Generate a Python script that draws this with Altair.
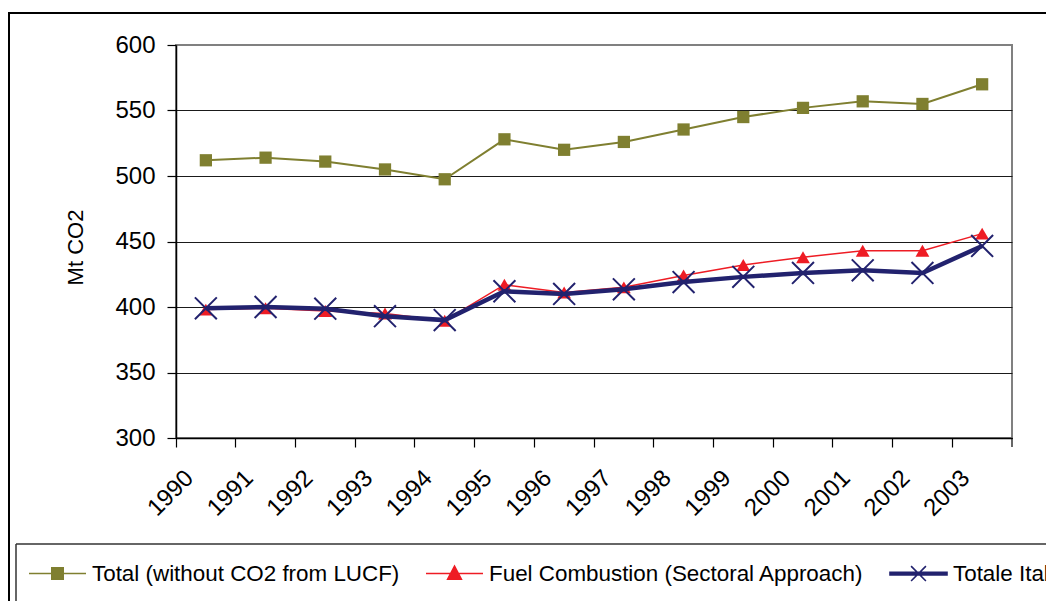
import altair as alt
import pandas as pd

years = [str(y) for y in range(1990, 2004)]
names = ["Total (without CO2 from LUCF)", "Fuel Combustion (Sectoral Approach)", "Totale Italia"]
total = [512, 514, 511, 505, 497.5, 528, 520, 526, 535.5, 545, 552, 557, 555, 570]
fuel = [398, 399, 397, 395, 389.5, 417, 411, 415, 424, 432, 438, 443, 443, 456]
italia = [399, 400, 398.7, 393, 390, 412, 410, 413.5, 419, 423, 426, 428, 426, 446.6]
y_ticks = [300, 350, 400, 450, 500, 550, 600]

colors = ["#7F7F30", "#EE1C24", "#22226E"]
line_widths = [2, 1.5, 4.5]

rows = []
for name, vals in zip(names, [total, fuel, italia]):
    for yr, v in zip(years, vals):
        rows.append({"year": yr, "series": name, "value": v})
df = pd.DataFrame(rows)

FONT = "Liberation Sans"

x_enc = alt.X(
    "year:O",
    scale=alt.Scale(type="band", paddingInner=0, paddingOuter=0, domain=years),
    axis=alt.Axis(
        title=None, bandPosition=0, grid=False,
        labelAngle=315, labelAlign="center", labelBaseline="middle",
        labelPadding=46, labelOffset=-35, tickSize=9,
        labelFontSize=24, labelFont=FONT, labelColor="black",
        domainColor="black", domainWidth=1.5, tickColor="black", tickWidth=1.2,
    ),
)
y_enc = alt.Y(
    "value:Q",
    scale=alt.Scale(domain=[300, 600], nice=False, zero=False),
    axis=alt.Axis(
        values=y_ticks, format="d", tickSize=9, labelPadding=12,
        labelFontSize=24, labelFont=FONT, labelColor="black",
        grid=True,
        gridColor={"condition": {"test": "datum.value === 600", "value": "#808080"}, "value": "#1a1a1a"},
        gridWidth=1.2,
        domainColor="black", domainWidth=1.5, tickColor="black", tickWidth=1.2,
        title="Mt CO2", titleFont=FONT, titleFontSize=22, titleFontWeight="normal",
        titleColor="black", titleAngle=270, titleAlign="center", titleBaseline="middle",
        titleX=-101, titleY=202,
    ),
)

one = pd.DataFrame({"a": [0]})
outer_top = alt.Chart(one).mark_rule(color="black", strokeWidth=2).encode(
    x=alt.value(-168), x2=alt.value(1000), y=alt.value(-32)
)
outer_left = alt.Chart(one).mark_rule(color="black", strokeWidth=2).encode(
    x=alt.value(-167), y=alt.value(-33), y2=alt.value(600)
)
box_top = alt.Chart(one).mark_rule(color="#333333", strokeWidth=1.5).encode(
    x=alt.value(-160), x2=alt.value(1000), y=alt.value(499)
)
box_left = alt.Chart(one).mark_rule(color="#333333", strokeWidth=1.5).encode(
    x=alt.value(-160), y=alt.value(499), y2=alt.value(600)
)
end_tick = alt.Chart(one).mark_rule(color="black", strokeWidth=1.2).encode(
    x=alt.value(836), y=alt.value(393), y2=alt.value(402)
)

layers = [outer_top, outer_left, box_top, box_left, end_tick]
x_path = "M-1,-1L1,1M-1,1L1,-1"
for i, name in enumerate(names):
    sub = alt.Chart(df).transform_filter(alt.datum.series == name)
    layers.append(
        sub.mark_line(color=colors[i], strokeWidth=line_widths[i]).encode(x=x_enc, y=y_enc)
    )
    if i == 0:
        pts = sub.mark_point(filled=True, shape="square", size=150, color=colors[i], opacity=1)
    elif i == 1:
        pts = sub.mark_point(filled=True, shape="triangle-up", size=190, color=colors[i], opacity=1)
    else:
        pts = sub.mark_point(filled=False, shape=x_path, size=480, color=colors[i],
                             strokeWidth=2, opacity=1)
    layers.append(pts.encode(x=x_enc, y=y_enc))

legend_paths = [
    "M-1,0H1M-0.2,-0.2H0.2V0.2H-0.2Z",
    "M-1,0H1M0,-0.26L0.24,0.2H-0.24Z",
    "M-1,-0.045H1V0.045H-1ZM-0.26,-0.26L0.26,0.26M-0.26,0.26L0.26,-0.26",
]
leg = alt.Chart(df).transform_filter("datum.value < 0").mark_point(filled=False, opacity=1).encode(
    color=alt.Color("series:N", scale=alt.Scale(domain=names, range=colors),
                    legend=alt.Legend(
                        title=None, orient="none", legendX=-148, legendY=499,
                        direction="horizontal", padding=0,
                        labelFont=FONT, labelFontSize=22.4, labelColor="black",
                        labelOffset=5, columnPadding=22, symbolSize=3249,
                        symbolStrokeWidth=1.6, labelLimit=600,
                    )),
    fill=alt.Fill("series:N", scale=alt.Scale(domain=names, range=colors)),
    shape=alt.Shape("series:N", scale=alt.Scale(domain=names, range=legend_paths)),
)
layers.append(leg)

chart = alt.layer(*layers).properties(
    width=836, height=393,
    padding={"left": 168, "top": 37, "right": 34, "bottom": 163},
    autosize=alt.AutoSizeParams(type="none"),
    background="white",
).configure_view(fill="#C0C0C0", stroke="#808080", strokeWidth=2)

chart.save("out.html", embed_options={"renderer": "svg", "actions": False})
